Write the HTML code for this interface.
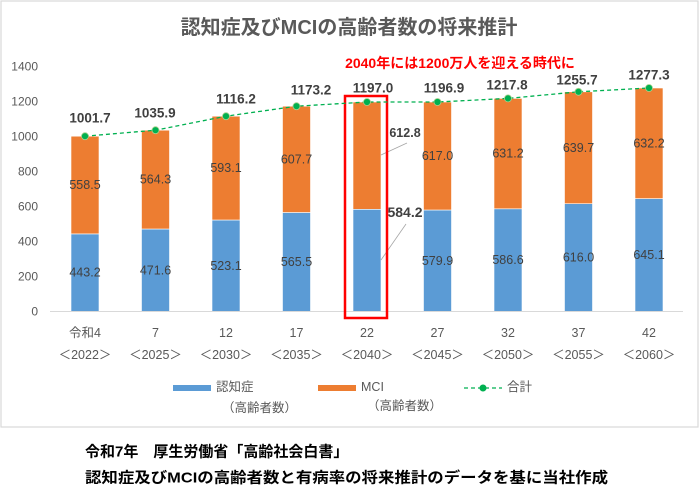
<!DOCTYPE html>
<html><head><meta charset="utf-8"><style>
body{margin:0;background:#fff}
svg{display:block;font-family:"Liberation Sans","Noto Sans CJK JP",sans-serif}
.yl{font-size:12px;fill:#595959;text-anchor:end}
.in{font-size:12.5px;fill:#404040;text-anchor:middle;dominant-baseline:central}
.tot{font-size:13.5px;font-weight:bold;fill:#404040;text-anchor:middle;dominant-baseline:central}
.cat{font-size:12.5px;fill:#595959;text-anchor:middle;dominant-baseline:central}
.lg{font-size:12.5px;fill:#595959;dominant-baseline:central}
</style></head><body>
<svg width="700" height="498" viewBox="0 0 700 498">
<rect x="1" y="1" width="697" height="426" fill="#fff" stroke="#d9d9d9" stroke-width="1.2"/>
<text x="349" y="28" text-anchor="middle" dominant-baseline="central" font-size="20" font-weight="bold" fill="#595959">認知症及びMCIの高齢者数の将来推計</text>
<text x="460" y="63" text-anchor="middle" dominant-baseline="central" font-size="14" font-weight="bold" fill="#ff0000">2040年には1200万人を迎える時代に</text>
<g class="yl">
<text x="38" y="315.5">0</text><text x="38" y="280.5">200</text><text x="38" y="245.5">400</text><text x="38" y="210.5">600</text><text x="38" y="175.5">800</text><text x="38" y="140.5">1000</text><text x="38" y="105.5">1200</text><text x="38" y="70.5">1400</text>
</g>
<g stroke="#fff" stroke-width="0.6">
<rect x="71" y="233.9" width="28" height="77.6" fill="#5b9bd5"/><rect x="71" y="136.2" width="28" height="97.7" fill="#ed7d31"/>
<rect x="141.5" y="229" width="28" height="82.5" fill="#5b9bd5"/><rect x="141.5" y="130.2" width="28" height="98.8" fill="#ed7d31"/>
<rect x="212" y="220" width="28" height="91.5" fill="#5b9bd5"/><rect x="212" y="116.2" width="28" height="103.8" fill="#ed7d31"/>
<rect x="282.5" y="212.5" width="28" height="99" fill="#5b9bd5"/><rect x="282.5" y="106.2" width="28" height="106.3" fill="#ed7d31"/>
<rect x="353" y="209.3" width="28" height="102.2" fill="#5b9bd5"/><rect x="353" y="102" width="28" height="107.3" fill="#ed7d31"/>
<rect x="423.5" y="210" width="28" height="101.5" fill="#5b9bd5"/><rect x="423.5" y="102" width="28" height="108" fill="#ed7d31"/>
<rect x="494" y="208.8" width="28" height="102.7" fill="#5b9bd5"/><rect x="494" y="98.4" width="28" height="110.4" fill="#ed7d31"/>
<rect x="564.5" y="203.7" width="28" height="107.8" fill="#5b9bd5"/><rect x="564.5" y="91.8" width="28" height="111.9" fill="#ed7d31"/>
<rect x="635" y="198.6" width="28" height="112.9" fill="#5b9bd5"/><rect x="635" y="88" width="28" height="110.6" fill="#ed7d31"/>
</g>
<line x1="50" y1="311.5" x2="683" y2="311.5" stroke="#d9d9d9" stroke-width="1"/>
<g class="in">
<text x="85" y="272.7">443.2</text><text x="85" y="185">558.5</text>
<text x="155.5" y="270.3">471.6</text><text x="155.5" y="179.6">564.3</text>
<text x="226" y="265.8">523.1</text><text x="226" y="168.1">593.1</text>
<text x="296.5" y="262">565.5</text><text x="296.5" y="159.4">607.7</text>
<text x="437.5" y="260.8">579.9</text><text x="437.5" y="156">617.0</text>
<text x="508" y="260.2">586.6</text><text x="508" y="153.6">631.2</text>
<text x="578.5" y="257.6">616.0</text><text x="578.5" y="147.8">639.7</text>
<text x="649" y="255">645.1</text><text x="649" y="143.3">632.2</text>
</g>
<line x1="381" y1="155" x2="407" y2="143" stroke="#a6a6a6" stroke-width="0.8"/>
<line x1="381" y1="260" x2="406" y2="224" stroke="#a6a6a6" stroke-width="0.8"/>
<text x="405" y="133" text-anchor="middle" dominant-baseline="central" font-size="12.5" font-weight="bold" fill="#404040">612.8</text>
<text x="405" y="212" text-anchor="middle" dominant-baseline="central" font-size="14" font-weight="bold" fill="#404040">584.2</text>
<rect x="345" y="96" width="42" height="222" fill="none" stroke="#ff0000" stroke-width="2.5"/>
<polyline points="85,136.2 155.5,130.2 226,116.2 296.5,106.2 367,102 437.5,102 508,98.4 578.5,91.8 649,88" fill="none" stroke="#00b050" stroke-width="1.3" stroke-dasharray="4,3"/>
<g fill="#00b050" stroke="#a9d18e" stroke-width="0.8">
<circle cx="85" cy="136.2" r="3.5"/><circle cx="155.5" cy="130.2" r="3.5"/><circle cx="226" cy="116.2" r="3.5"/><circle cx="296.5" cy="106.2" r="3.5"/><circle cx="367" cy="102" r="3.5"/><circle cx="437.5" cy="102" r="3.5"/><circle cx="508" cy="98.4" r="3.5"/><circle cx="578.5" cy="91.8" r="3.5"/><circle cx="649" cy="88" r="3.5"/>
</g>
<g class="tot">
<text x="90" y="118">1001.7</text><text x="155" y="113">1035.9</text><text x="236" y="99">1116.2</text><text x="311" y="90">1173.2</text><text x="373" y="88">1197.0</text><text x="444" y="88">1196.9</text><text x="507" y="85">1217.8</text><text x="577" y="80">1255.7</text><text x="649" y="75">1277.3</text>
</g>
<g class="cat">
<text x="85" y="333">令和4</text><text x="155.5" y="333">7</text><text x="226" y="333">12</text><text x="296.5" y="333">17</text><text x="367" y="333">22</text><text x="437.5" y="333">27</text><text x="508" y="333">32</text><text x="578.5" y="333">37</text><text x="649" y="333">42</text>
<text x="85" y="355">＜2022＞</text><text x="155.5" y="355">＜2025＞</text><text x="226" y="355">＜2030＞</text><text x="296.5" y="355">＜2035＞</text><text x="367" y="355">＜2040＞</text><text x="437.5" y="355">＜2045＞</text><text x="508" y="355">＜2050＞</text><text x="578.5" y="355">＜2055＞</text><text x="649" y="355">＜2060＞</text>
</g>
<rect x="173" y="385" width="38" height="6" fill="#5b9bd5"/>
<text class="lg" x="216" y="387">認知症</text>
<text class="lg" x="222" y="408">（高齢者数）</text>
<rect x="318" y="385" width="38" height="6" fill="#ed7d31"/>
<text class="lg" x="361" y="387">MCI</text>
<text class="lg" x="367" y="406">（高齢者数）</text>
<line x1="464" y1="388" x2="502" y2="388" stroke="#00b050" stroke-width="1.3" stroke-dasharray="4,3"/>
<circle cx="483" cy="388" r="3.5" fill="#00b050"/>
<text class="lg" x="507" y="387">合計</text>
<text x="85" y="452" dominant-baseline="central" font-size="15" font-weight="bold" fill="#000">令和7年　厚生労働省「高齢社会白書」</text>
<text x="85" y="478" dominant-baseline="central" font-size="15" font-weight="bold" fill="#000" textLength="523" lengthAdjust="spacingAndGlyphs">認知症及びMCIの高齢者数と有病率の将来推計のデータを基に当社作成</text>
</svg>
</body></html>
